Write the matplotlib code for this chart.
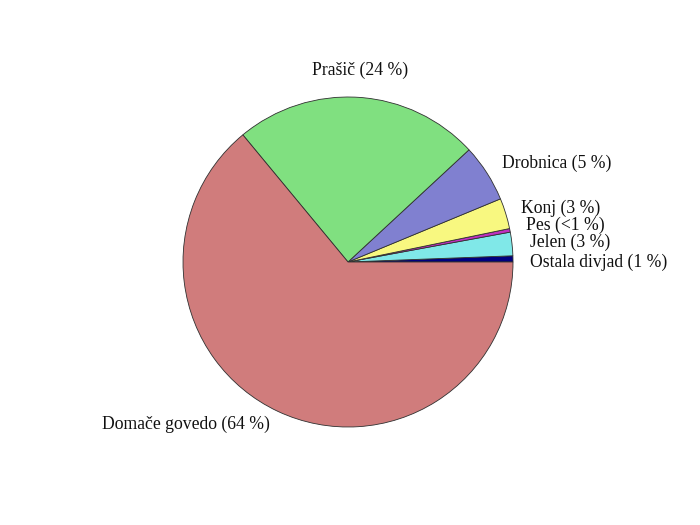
import matplotlib.pyplot as plt

# Deleži po vrstah živali (od 0° v nasprotni smeri urinega kazalca)
labels = ['Ostala divjad (1 %)', 'Jelen (3 %)', 'Pes (<1 %)', 'Konj (3 %)',
          'Drobnica (5 %)', 'Prašič (24 %)', 'Domače govedo (64 %)']
values = [0.6, 2.3, 0.35, 3.0, 5.65, 24.1, 64.0]
colors = ['#000080', '#80e8e8', '#c030c0', '#f8f880',
          '#8080d0', '#80e080', '#d07c7c']

# label anchor positions in pixels (left x, centre y)
label_px = [(530, 262), (530, 242), (526, 225), (521, 208),
            (502, 163), (312, 70), (102, 424)]

W, H = 700, 525
cx, cy, r = 348, 262, 165

fig = plt.figure(figsize=(7, 5.25), dpi=100)
ax = fig.add_axes([0, 0, 1, 1])
ax.pie(values, colors=colors, startangle=0, counterclock=True, radius=1,
       wedgeprops={'edgecolor': '#303030', 'linewidth': 0.6})
ax.set_xlim(-cx / r, (W - cx) / r)
ax.set_ylim(-(H - cy) / r, cy / r)
ax.set_aspect('equal')
ax.axis('off')

for lab, (px, py) in zip(labels, label_px):
    fig.text(px / W, 1 - py / H, lab, ha='left', va='center',
             family='Liberation Serif', fontsize=12.7, color='#101010')

fig.savefig('out.png', dpi=100)
